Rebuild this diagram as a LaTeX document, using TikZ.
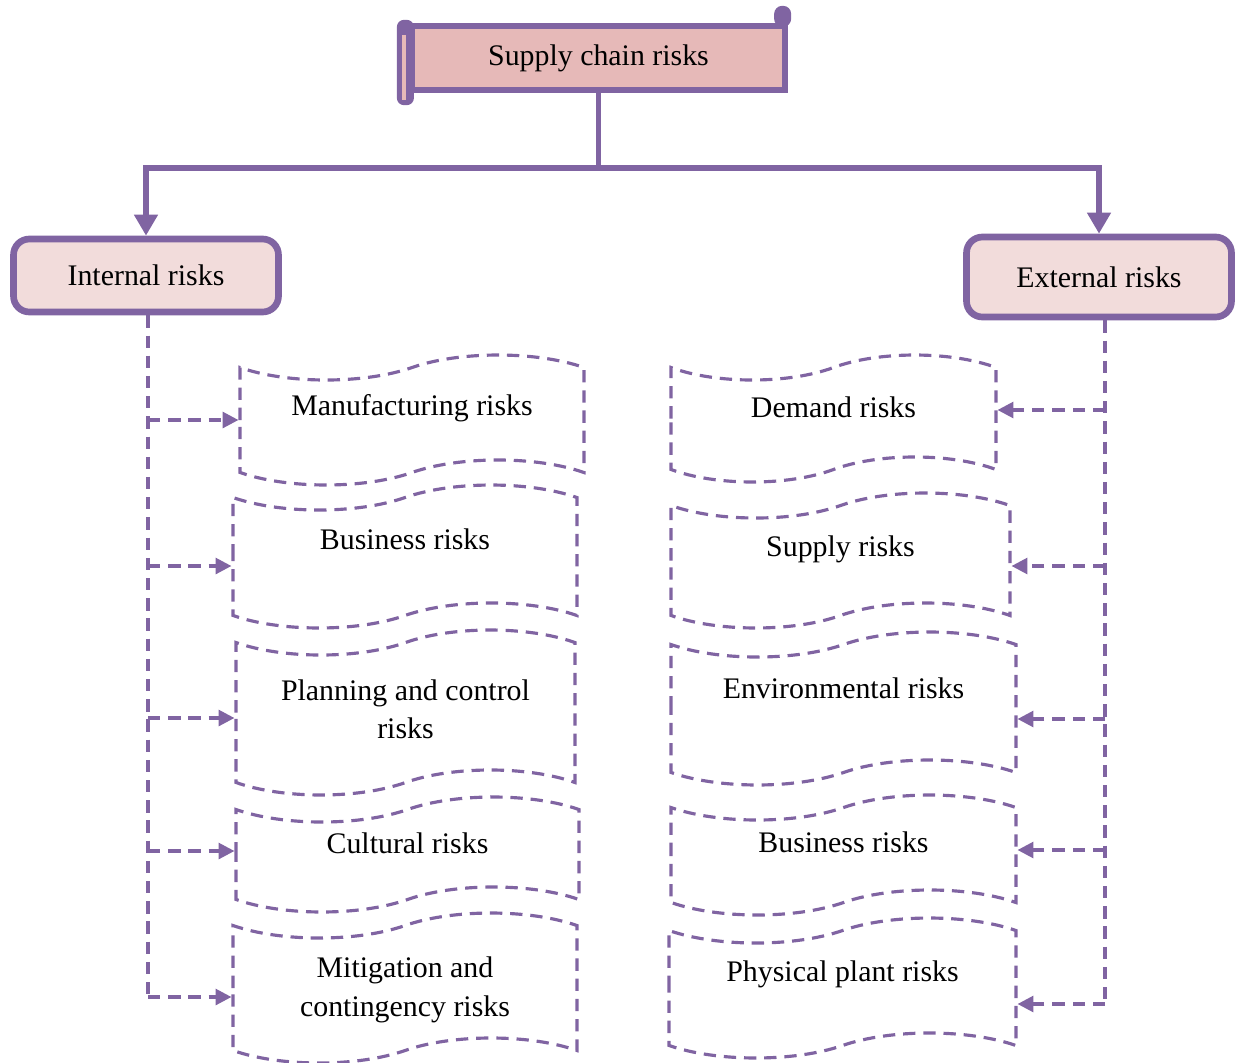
\documentclass[tikz,border=0pt]{standalone}
\usepackage{fontspec}
\setmainfont{Liberation Serif}
\usetikzlibrary{shapes.symbols,arrows.meta,calc}
\definecolor{riskpurple}{HTML}{8064A2}
\definecolor{toppink}{HTML}{E6B9B8}
\definecolor{boxpink}{HTML}{F2DCDB}
\tikzstyle{scrollbox}=[draw=riskpurple, fill=toppink, line width=3.6pt, minimum width=7.46cm, minimum height=1.28cm]
\tikzstyle{head}=[draw=riskpurple, fill=boxpink, line width=3.8pt, rounded corners=9pt, minimum width=5.3cm]
\tikzstyle{risk}=[tape, draw=riskpurple, line width=1.8pt, dash pattern=on 7pt off 4.5pt, tape bend height=0.5cm, align=center]
\tikzstyle{tree}=[draw=riskpurple, line width=3.4pt]
\tikzstyle{feed}=[draw=riskpurple, line width=1.8pt, dash pattern=on 7pt off 4.5pt]
\tikzstyle{feedarrow}=[feed, -{Triangle[length=9pt,width=9pt]}]

\begin{document}
\begin{tikzpicture}[x=0.02cm, y=-0.02cm, font=\fontsize{17}{22}\selectfont]
\useasboundingbox (0,0) rectangle (1241,1062);
\node[scrollbox] (Top) at (598.5,58) {Supply chain risks};
% scroll ends
\fill[riskpurple, rounded corners=4pt] ($(Top.north west)+(-12,-3)$) rectangle ($(Top.south west)+(5,12)$);
\draw[toppink, line width=2pt] ($(Top.north west)+(-5,12)$) -- ($(Top.south west)+(-5,7)$);
\fill[riskpurple, rounded corners=0.16cm] ($(Top.north east)+(-14,-17)$) rectangle ($(Top.north east)+(3,4)$);
\node[head, minimum height=1.46cm] (Int) at (146,275.5) {Internal risks};
\node[head, minimum height=1.6cm] (Ext) at (1099,277) {External risks};
\node[risk, minimum width=6.88cm, minimum height=2.6cm, text depth=17pt] (L1) at (412,420) {Manufacturing risks};
\node[risk, minimum width=6.88cm, minimum height=2.86cm, text depth=20pt] (L2) at (405,556.5) {Business risks};
\node[risk, minimum width=6.78cm, minimum height=3.3cm, text depth=4pt] (L3) at (405.5,712.5) {Planning and control\\risks};
\node[risk, minimum width=6.86cm, minimum height=2.3cm, text depth=13pt] (L4) at (407.5,854.5) {Cultural risks};
\node[risk, minimum width=6.88cm, minimum height=3.0cm, text depth=1.5pt] (L5) at (405,988) {Mitigation and\\contingency risks};
\node[risk, minimum width=6.5cm, minimum height=2.54cm, text depth=13pt] (R1) at (833.5,418.5) {Demand risks};
\node[risk, minimum width=6.78cm, minimum height=2.7cm, text depth=16pt] (R2) at (840.5,560.5) {Supply risks};
\node[risk, minimum width=6.9cm, minimum height=3.06cm, text depth=23pt] (R3) at (843.5,708.5) {Environmental risks};
\node[risk, minimum width=6.9cm, minimum height=2.4cm, text depth=15pt] (R4) at (843.5,855) {Business risks};
\node[risk, minimum width=6.94cm, minimum height=2.8cm, text depth=19pt] (R5) at (842.5,988) {Physical plant risks};
% main branches
\draw[tree] (Top.south) -- ++(0,75) coordinate (Hub);
\draw[tree, -{Triangle[length=12pt,width=13pt]}] (Hub) -| (Int.north);
\draw[tree, -{Triangle[length=12pt,width=13pt]}] (Hub) -| (Ext.north);
% internal risks
\coordinate (IntBus) at ($(Int.south)+(2,0)$);
\draw[feed] (IntBus) -- (IntBus |- 0,997);
\draw[feedarrow] (IntBus |- L1.west) -- (L1.west);
\draw[feedarrow] (IntBus |- 0,566) -- (L2.west |- 0,566);
\draw[feedarrow] (IntBus |- 0,718) -- (L3.west |- 0,718);
\draw[feedarrow] (IntBus |- 0,851) -- (L4.west |- 0,851);
\draw[feedarrow] (IntBus |- 0,997) -- (L5.west |- 0,997);
% external risks
\coordinate (ExtBus) at ($(Ext.south)+(6,0)$);
\draw[feed] (ExtBus) -- (ExtBus |- 0,1004);
\draw[feedarrow] (ExtBus |- 0,410) -- (R1.east |- 0,410);
\draw[feedarrow] (ExtBus |- 0,566) -- (R2.east |- 0,566);
\draw[feedarrow] (ExtBus |- 0,719) -- (R3.east |- 0,719);
\draw[feedarrow] (ExtBus |- 0,850) -- (R4.east |- 0,850);
\draw[feedarrow] (ExtBus |- 0,1004) -- (R5.east |- 0,1004);
\end{tikzpicture}
\end{document}
